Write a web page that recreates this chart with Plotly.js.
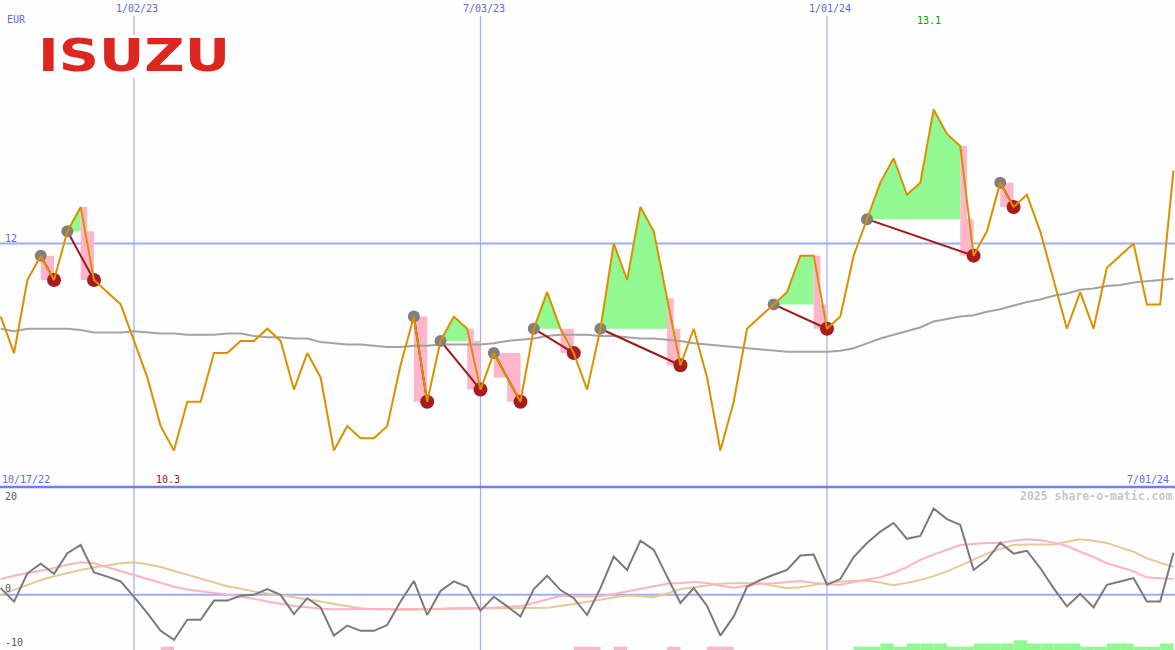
<!DOCTYPE html>
<html><head><meta charset="utf-8">
<script src="https://cdn.plot.ly/plotly-3.0.1.min.js"></script>
<style>html,body{margin:0;padding:0;background:#fdfefd;}#chart{width:1175px;height:650px;}</style>
</head><body><div id="chart"></div>
<script>
// ---- data (weekly closes, EUR) ----
const firstWeek = '2022-10-24';
const price = [11.4,11.1,11.7,11.9,11.7,12.1,12.3,11.7,11.6,11.5,
 11.2,10.9,10.5,10.3,10.7,10.7,11.1,11.1,11.2,11.2,
 11.3,11.2,10.8,11.1,10.9,10.3,10.5,10.4,10.4,10.5,
 11.0,11.4,10.7,11.2,11.4,11.3,10.8,11.1,10.9,10.7,
 11.3,11.6,11.3,11.1,10.8,11.3,12.0,11.7,12.3,12.1,
 11.55,11.0,11.3,10.9,10.3,10.7,11.3,11.4,11.5,11.6,
 11.9,11.9,11.3,11.4,11.9,12.2,12.5,12.7,12.4,12.5,
 13.1,12.9,12.8,11.9,12.1,12.5,12.3,12.4,12.1,11.7,
 11.3,11.6,11.3,11.8,11.9,12.0,11.5,11.5,12.6];
const movingAvg = [11.30,11.28,11.30,11.30,11.30,11.30,11.29,11.27,11.27,11.27,
 11.28,11.27,11.26,11.26,11.25,11.25,11.25,11.26,11.26,11.24,
 11.23,11.23,11.22,11.22,11.19,11.18,11.17,11.17,11.16,11.15,
 11.15,11.16,11.16,11.17,11.17,11.17,11.17,11.18,11.20,11.21,
 11.22,11.24,11.25,11.25,11.25,11.24,11.24,11.23,11.22,11.22,
 11.21,11.20,11.18,11.17,11.16,11.15,11.14,11.13,11.12,11.11,
 11.11,11.11,11.11,11.12,11.14,11.18,11.22,11.25,11.28,11.31,
 11.36,11.38,11.40,11.41,11.44,11.46,11.49,11.52,11.54,11.57,
 11.59,11.62,11.63,11.65,11.66,11.68,11.69,11.70,11.71];
const oscillator = [1.4,-1.4,4.5,6.5,4.4,8.7,10.4,4.7,3.8,2.8,
 -0.4,-3.8,-7.5,-9.4,-5.2,-5.2,-1.2,-1.2,-0.2,0,
 1.2,0,-4.0,-0.7,-2.6,-8.5,-6.4,-7.5,-7.5,-6.3,
 -1.4,2.9,-4.2,0.8,2.8,1.7,-3.3,-0.4,-2.4,-4.5,
 1.2,4.0,1.0,-0.7,-4.2,1.4,8.0,5.2,11.3,9.4,
 3.8,-1.7,1.4,-2.3,-8.5,-4.5,1.7,3.1,4.2,5.2,
 8.2,8.4,2.1,3.3,7.9,10.8,13.2,15.0,11.7,12.3,
 18.0,15.8,14.6,5.2,7.3,10.9,8.6,9.2,5.6,1.4,
 -2.4,0.2,-2.6,2.1,2.8,3.5,-1.4,-1.4,8.8];
const oscFast = [3.3,4.0,4.5,5.0,5.6,6.3,6.8,6.6,5.8,5.0,
 4.2,3.3,2.5,1.7,1.1,0.7,0.4,0.1,-0.3,-0.8,
 -1.4,-1.9,-2.3,-2.6,-2.9,-3.0,-3.0,-3.0,-3.0,-3.0,
 -3.0,-2.9,-2.9,-2.9,-2.8,-2.8,-2.8,-2.7,-2.5,-2.3,
 -1.7,-0.9,-0.2,-0.3,-0.35,-0.3,0.2,0.7,1.2,1.8,
 2.3,2.5,2.7,2.5,1.9,1.5,1.9,2.3,2.4,2.6,
 2.9,2.5,2.2,2.1,2.7,3.2,3.7,4.6,5.8,7.3,
 8.4,9.4,10.4,10.6,10.8,10.8,11.3,11.6,11.4,10.9,
 10.2,9.0,7.9,6.6,5.8,4.9,3.6,3.4,3.3];
const oscSlow = [0,1.0,2.1,3.1,3.9,4.6,5.2,5.7,6.2,6.6,
 6.8,6.4,5.8,5.0,4.2,3.3,2.5,1.8,1.3,0.7,
 0.3,0,-0.5,-0.9,-1.4,-1.9,-2.3,-2.8,-3.0,-3.1,
 -3.1,-3.1,-3.0,-3.0,-2.9,-2.9,-2.8,-2.8,-2.8,-2.8,
 -2.8,-2.7,-2.3,-1.9,-1.5,-1.0,-0.5,-0.15,-0.3,-0.5,
 0.3,1.2,1.6,2.0,2.3,2.4,2.5,2.4,1.9,1.4,
 1.6,2.1,2.5,2.8,2.9,3.0,2.6,2.0,2.5,3.1,
 3.9,4.9,6.1,7.3,8.6,9.6,10.4,10.5,10.5,10.5,
 11.1,11.6,11.3,10.8,9.9,9.0,7.6,6.7,5.8];
const trendBars = [0,0,0,0,0,0,0,0,0,0,
 0,0,-1,0,0,0,0,0,0,0,
 0,0,0,0,0,0,0,0,0,0,
 0,0,0,0,0,0,0,0,0,0,
 0,0,0,-1,-1,0,-1,0,0,0,
 -1,0,0,-1,-1,0,0,0,0,0,
 0,0,0,0,1,1,2,1,2,2,
 2,1,1,2,2,2,3,2,2,2,
 2,1,1,2,2,1,1,2,0];
const signalBuy  = ['2022-11-14','2022-11-28','2023-05-29','2023-06-12','2023-07-10','2023-07-31','2023-09-04','2023-12-04','2024-01-22','2024-04-01'];
const signalSell = ['2022-11-21','2022-12-12','2023-06-05','2023-07-03','2023-07-24','2023-08-21','2023-10-16','2024-01-01','2024-03-18','2024-04-08'];
const markerDates = ['2023-01-02','2023-07-03','2024-01-01'];
const markerLabels = ['1/02/23','7/03/23','1/01/24'];
const logoText = 'ISUZU';

// ---- build ----
const DAY = 864e5, WEEK = 7*DAY;
const t0 = Date.parse(firstWeek+'T00:00:00Z');
const weeks = price.map((_,i)=>t0+i*WEEK);
const ms = s => Date.parse(s+'T00:00:00Z');
const idx = s => Math.round((ms(s)-t0)/WEEK);
const pxPerDay = (827-134)/364;
const xL = ms('2023-01-02') - 134/pxPerDay*DAY;
const xR = ms('2023-01-02') + (1175-134)/pxPerDay*DAY;

const gx=[],gy=[],px=[],py=[],lx=[],ly=[],bx=[],by=[],sx=[],sy=[];
signalBuy.forEach((b,n)=>{
  const s=idx(b), e=idx(signalSell[n]); const L=price[s];
  lx.push(weeks[s],weeks[e],null); ly.push(L,price[e],null);
  bx.push(weeks[s]); by.push(L); sx.push(weeks[e]); sy.push(price[e]);
  for(let k=s;k<e;k++){
    if(price[k+1]>=L){
      gx.push(weeks[k],weeks[k],weeks[k+1],weeks[k+1],null);
      gy.push(L,Math.max(price[k],L),price[k+1],L,null);
    } else {
      if(price[k]>L){
        const m=weeks[k]+0.5*WEEK;
        px.push(weeks[k],weeks[k],m,m,null); py.push(L,price[k],price[k],L,null);
      }
      px.push(weeks[k],weeks[k],weeks[k+1],weeks[k+1],null);
      py.push(L,price[k+1],price[k+1],L,null);
    }
  }
});

const posX=[],posY=[],negX=[],negY=[];
trendBars.forEach((v,i)=>{ if(v>0){posX.push(weeks[i]);posY.push(v);} else if(v<0){negX.push(weeks[i]);negY.push(-v);} });

const traces = [
  {x:gx,y:gy,type:'scatter',mode:'lines',fill:'toself',fillcolor:'rgb(146,248,146)',line:{width:0},hoverinfo:'skip'},
  {x:px,y:py,type:'scatter',mode:'lines',fill:'toself',fillcolor:'rgb(255,182,203)',line:{width:0},hoverinfo:'skip'},
  {x:weeks,y:movingAvg,type:'scatter',mode:'lines',line:{color:'rgb(163,163,163)',width:2}},
  {x:lx,y:ly,type:'scatter',mode:'lines',line:{color:'rgb(160,24,24)',width:2}},
  {x:bx,y:by,type:'scatter',mode:'markers',marker:{color:'rgb(128,128,128)',size:12}},
  {x:sx,y:sy,type:'scatter',mode:'markers',marker:{color:'rgb(170,28,28)',size:14}},
  {x:weeks,y:price,type:'scatter',mode:'lines',line:{color:'rgb(218,145,0)',width:2}},
  {x:weeks,y:oscSlow,yaxis:'y2',type:'scatter',mode:'lines',line:{color:'rgb(228,202,152)',width:2}},
  {x:weeks,y:oscFast,yaxis:'y2',type:'scatter',mode:'lines',line:{color:'rgb(255,178,196)',width:2}},
  {x:weeks,y:oscillator,yaxis:'y2',type:'scatter',mode:'lines',line:{color:'rgb(122,122,122)',width:2}},
  {x:posX,y:posY,yaxis:'y3',type:'bar',width:WEEK,offset:0,marker:{color:'rgb(146,248,146)',line:{width:0}}},
  {x:negX,y:negY,yaxis:'y3',type:'bar',width:WEEK,offset:0,marker:{color:'rgb(255,182,203)',line:{width:0}}}
];

const W=1175,H=650;
const PX=x=>x/W, PY=y=>1-y/H;
const blue='rgb(88,104,240)', mono='DejaVu Sans Mono';
const ann=(text,x,y,opt={})=>Object.assign({text,x:PX(x),y:PY(y),xref:'paper',yref:'paper',showarrow:false,
  xanchor:'center',yanchor:'middle',font:{family:mono,size:10,color:blue}},opt);

const annotations=[
  ann('EUR',16,19),
  ann('12',11,238),
  ann('10/17/22',26,479),
  ann('7/01/24',1171,479,{xanchor:'right'}),
  ann('2025 share-o-matic.com',1174,496,{xanchor:'right',font:{family:mono,size:11.5,color:'rgb(200,200,200)',weight:'bold'}}),
  ann('20',11,496,{font:{family:mono,size:10,color:'rgb(90,90,90)'}}),
  ann('0',8,588,{font:{family:mono,size:10,color:'rgb(90,90,90)'}}),
  ann('-10',14,642,{font:{family:mono,size:10,color:'rgb(90,90,90)'}}),
  {text:logoText,x:PX(37),y:PY(56),xref:'paper',yref:'paper',showarrow:false,
   xanchor:'left',yanchor:'middle',borderpad:0,
   font:{family:'DejaVu Sans',size:44,weight:'bold',color:'rgb(222,38,30)'}}
];
markerDates.forEach((d,i)=>annotations.push({text:markerLabels[i],x:ms(d),y:PY(9),xref:'x',yref:'paper',xshift:3,
  showarrow:false,xanchor:'center',yanchor:'middle',font:{family:mono,size:10,color:blue}}));
const iMax = price.indexOf(Math.max(...price)), iMin = price.indexOf(Math.min(...price));
annotations.push({text:String(price[iMax]),x:weeks[iMax],y:PY(21),xref:'x',yref:'paper',xshift:-5,showarrow:false,
  xanchor:'center',yanchor:'middle',font:{family:mono,size:10,color:'rgb(0,160,0)'}});
annotations.push({text:String(price[iMin]),x:weeks[iMin],y:PY(479),xref:'x',yref:'paper',xshift:-6,showarrow:false,
  xanchor:'center',yanchor:'middle',font:{family:mono,size:10,color:'rgb(160,20,20)'}});

const lineBlue='rgb(160,172,248)';
const shapes=[
  {type:'line',xref:'paper',yref:'y',x0:0,x1:1,y0:12,y1:12,line:{color:lineBlue,width:2},layer:'below'},
  {type:'line',xref:'paper',yref:'y2',x0:0,x1:1,y0:0,y1:0,line:{color:lineBlue,width:2},layer:'below'},
  {type:'line',xref:'paper',yref:'paper',x0:0,x1:1,y0:PY(487),y1:PY(487),line:{color:'rgb(112,128,238)',width:2.5},layer:'above'},
  // backdrop behind the logo
  {type:'rect',xref:'paper',yref:'paper',x0:PX(34),x1:PX(234),y0:PY(78),y1:PY(35),fillcolor:'#fdfefd',line:{width:0},layer:'above'}
];
markerDates.forEach(d=>shapes.push({type:'line',xref:'x',yref:'paper',x0:ms(d),x1:ms(d),y0:0,y1:PY(16),
  line:{color:lineBlue,width:1.2},layer:'below'}));

const layout={width:W,height:H,margin:{l:0,r:0,t:0,b:0,pad:0},paper_bgcolor:'#fdfefd',plot_bgcolor:'#fdfefd',
  showlegend:false,hovermode:false,barmode:'overlay',
  xaxis:{type:'date',range:[xL,xR],visible:false,fixedrange:true},
  yaxis:{domain:[163/H,1],range:[10,14],visible:false},
  yaxis2:{domain:[0,163/H],range:[-11.5,22.5],visible:false},
  yaxis3:{overlaying:'y2',range:[0,50],visible:false},
  shapes,annotations};
Plotly.newPlot('chart',traces,layout,{staticPlot:true,displayModeBar:false}).then(()=>{
  // widen the logo lettering horizontally (wide logotype)
  const t=[...document.querySelectorAll('text.annotation-text')].find(e=>e.textContent===logoText);
  if(t){const bb=t.getBBox(); const s=192/bb.width;
    t.setAttribute('transform',`translate(${bb.x},0) scale(${s},1) translate(${-bb.x},0)`);}
});
</script></body></html>
